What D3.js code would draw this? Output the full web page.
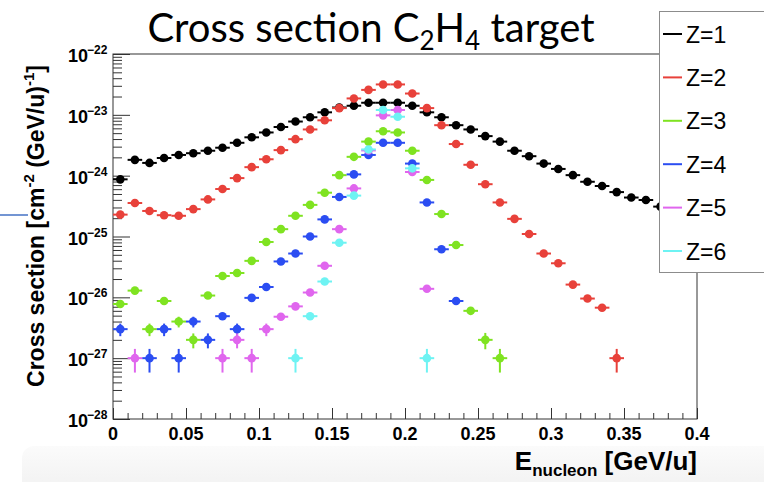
<!DOCTYPE html>
<html>
<head>
<meta charset="utf-8">
<script src="https://cdn.jsdelivr.net/npm/d3@7"></script>
<style>
  body { margin: 0; background: #fff; }
  svg { display: block; }
  .axis text { display: none; }
  .axis path { display: none; }
  .axis line { stroke: #333; stroke-width: 1; }
</style>
</head>
<body>
<div id="chart"></div>
<script>
// ---- data: [E_nucleon (GeV/u), cross section, vertical error] ----
const z1 = [
  [0.005, 8.7e-25, 0], [0.015, 1.82e-24, 0], [0.025, 1.62e-24, 0], [0.035, 1.95e-24, 0],
  [0.045, 2.19e-24, 0], [0.055, 2.34e-24, 0], [0.065, 2.57e-24, 0], [0.075, 2.88e-24, 0],
  [0.085, 3.47e-24, 0], [0.095, 4.27e-24, 0], [0.105, 5.13e-24, 0], [0.115, 6.31e-24, 0],
  [0.125, 7.76e-24, 0], [0.135, 9.12e-24, 0], [0.145, 1.10e-23, 0], [0.155, 1.32e-23, 0],
  [0.165, 1.41e-23, 0], [0.175, 1.58e-23, 0], [0.185, 1.58e-23, 0], [0.195, 1.58e-23, 0],
  [0.205, 1.41e-23, 0], [0.215, 1.10e-23, 0], [0.225, 9.12e-24, 0], [0.235, 6.76e-24, 0],
  [0.245, 5.75e-24, 0], [0.255, 4.47e-24, 0], [0.265, 3.63e-24, 0], [0.275, 2.57e-24, 0],
  [0.285, 2.09e-24, 0], [0.295, 1.58e-24, 0], [0.305, 1.29e-24, 0], [0.315, 1.02e-24, 0],
  [0.325, 7.94e-25, 0], [0.335, 6.76e-25, 0], [0.345, 5.37e-25, 0], [0.355, 4.37e-25, 0],
  [0.365, 3.98e-25, 0], [0.375, 3.1e-25, 0], [0.385, 2.5e-25, 0], [0.395, 2.0e-25, 0]
];
const z2 = [
  [0.005, 2.29e-25, 0], [0.015, 3.55e-25, 0], [0.025, 2.63e-25, 0], [0.035, 2.24e-25, 0],
  [0.045, 2.19e-25, 0], [0.055, 2.82e-25, 0], [0.065, 4.07e-25, 0], [0.075, 6.03e-25, 0],
  [0.085, 9.12e-25, 0], [0.095, 1.38e-24, 0], [0.105, 1.86e-24, 0], [0.115, 2.63e-24, 0],
  [0.125, 3.98e-24, 0], [0.135, 5.75e-24, 0], [0.145, 8.13e-24, 0], [0.155, 1.29e-23, 0],
  [0.165, 1.86e-23, 0], [0.175, 2.57e-23, 0], [0.185, 3.16e-23, 0], [0.195, 3.16e-23, 0],
  [0.205, 2.24e-23, 0], [0.215, 1.29e-23, 0], [0.225, 6.76e-24, 0], [0.235, 3.31e-24, 0],
  [0.245, 1.51e-24, 0], [0.255, 7.24e-25, 0], [0.265, 3.63e-25, 0], [0.275, 1.95e-25, 0],
  [0.285, 1.10e-25, 0], [0.295, 5.25e-26, 0], [0.305, 3.63e-26, 0], [0.315, 1.62e-26, 0],
  [0.325, 9.55e-27, 0], [0.335, 6.76e-27, 0], [0.345, 1.0e-27, 0.42e-27]
];
const z3 = [
  [0.005, 7.76e-27, 0], [0.015, 1.29e-26, 0], [0.025, 3.0e-27, 0.7e-27], [0.035, 8.7e-27, 0],
  [0.045, 4.0e-27, 0.8e-27], [0.055, 2.0e-27, 0.55e-27], [0.065, 1.07e-26, 0], [0.075, 2.24e-26, 0],
  [0.085, 2.51e-26, 0], [0.095, 3.98e-26, 0], [0.105, 8.13e-26, 0], [0.115, 1.32e-25, 0],
  [0.125, 2.19e-25, 0], [0.135, 3.31e-25, 0], [0.145, 5.25e-25, 0], [0.155, 1.02e-24, 0],
  [0.165, 2.04e-24, 0], [0.175, 3.63e-24, 0], [0.185, 5.37e-24, 0], [0.195, 5.13e-24, 0],
  [0.205, 2.57e-24, 0], [0.215, 8.51e-25, 0], [0.225, 2.34e-25, 0], [0.235, 7.24e-26, 0],
  [0.245, 6.0e-27, 0], [0.255, 2.0e-27, 0.6e-27], [0.265, 1.0e-27, 0.42e-27]
];
const z4 = [
  [0.005, 3.0e-27, 0.7e-27], [0.025, 1.0e-27, 0.42e-27], [0.035, 3.0e-27, 0.7e-27],
  [0.045, 1.0e-27, 0.42e-27], [0.055, 4.0e-27, 0.8e-27], [0.065, 2.0e-27, 0.55e-27],
  [0.075, 4.9e-27, 0], [0.085, 3.0e-27, 0.7e-27], [0.095, 9.8e-27, 0], [0.105, 1.48e-26, 0],
  [0.115, 3.89e-26, 0], [0.125, 5.25e-26, 0], [0.135, 1.0e-25, 0], [0.145, 1.91e-25, 0],
  [0.155, 4.47e-25, 0], [0.165, 1.05e-24, 0], [0.175, 2.19e-24, 0], [0.185, 3.47e-24, 0],
  [0.195, 3.47e-24, 0], [0.205, 1.58e-24, 0], [0.215, 3.63e-25, 0], [0.225, 6.17e-26, 0],
  [0.235, 8.7e-27, 0]
];
const z5 = [
  [0.015, 1.0e-27, 0.42e-27], [0.075, 1.0e-27, 0.42e-27], [0.085, 2.0e-27, 0.55e-27],
  [0.095, 1.0e-27, 0.42e-27], [0.105, 3.0e-27, 0.7e-27], [0.115, 4.8e-27, 0],
  [0.125, 7.1e-27, 0], [0.135, 1.2e-26, 0], [0.145, 3.3e-26, 0], [0.155, 1.32e-25, 0],
  [0.165, 6.17e-25, 0], [0.175, 2.6e-24, 0], [0.185, 9.8e-24, 0], [0.195, 1.2e-23, 0],
  [0.205, 1.15e-24, 0], [0.215, 1.38e-26, 0]
];
const z6 = [
  [0.125, 1.0e-27, 0.42e-27], [0.135, 4.9e-27, 0], [0.145, 1.82e-26, 0], [0.155, 7.9e-26, 0],
  [0.165, 4.7e-25, 0], [0.175, 2.7e-24, 0], [0.185, 1.2e-23, 0], [0.195, 9.3e-24, 0],
  [0.205, 1.32e-24, 0], [0.215, 1.0e-27, 0.42e-27]
];

const seriesNames = ["Z=1", "Z=2", "Z=3", "Z=4", "Z=5", "Z=6"];
const seriesData = [z1, z2, z3, z4, z5, z6];
const seriesColors = ["#000000", "#e8413a", "#7fe321", "#2b4df2", "#e066ee", "#6ef3f3"];

const binHalfWidth = 0.005;
const xTicks = [0, 0.05, 0.1, 0.15, 0.2, 0.25, 0.3, 0.35, 0.4];
const xTickLabels = ["0", "0.05", "0.1", "0.15", "0.2", "0.25", "0.3", "0.35", "0.4"];
const yDecades = [-28, -27, -26, -25, -24, -23, -22];

// ---- layout ----
const W = 764, H = 482;
const margin = { left: 113, right: 67, top: 54, bottom: 63 };
const width = W - margin.left - margin.right;
const height = H - margin.top - margin.bottom;

const svg = d3.select("#chart")
    .append("svg")
    .attr("width", W)
    .attr("height", H);

// slide background bits
const defs = svg.append("defs");
const grad = defs.append("linearGradient")
    .attr("id", "panelGrad")
    .attr("x1", 0).attr("y1", 0).attr("x2", 0).attr("y2", 1);
grad.append("stop").attr("offset", "0%").attr("stop-color", "#fbfbfb");
grad.append("stop").attr("offset", "40%").attr("stop-color", "#f4f4f4");
grad.append("stop").attr("offset", "100%").attr("stop-color", "#f2f2f2");
svg.append("rect")
    .attr("x", 22).attr("y", 446)
    .attr("width", 800).attr("height", 80)
    .attr("rx", 12)
    .attr("fill", "url(#panelGrad)");
svg.append("line")
    .attr("x1", 0).attr("x2", 28)
    .attr("y1", 215).attr("y2", 215)
    .attr("stroke", "#4472c4")
    .attr("stroke-width", 1.5);

const g = svg.append("g")
    .attr("transform", `translate(${margin.left},${margin.top})`);

// Scales
const x = d3.scaleLinear()
    .domain([0, 0.4])
    .range([0, width]);
const y = d3.scaleLog()
    .domain([1e-28, 1e-22])
    .range([height, 0]);

// X axis ticks (inside the frame)
const xMinor = [];
for (let i = 1; i < 40; i++) { if (i % 5 !== 0) xMinor.push(i / 100); }
g.append("g")
    .attr("class", "axis")
    .attr("transform", `translate(0,${height})`)
    .call(d3.axisBottom(x).tickValues(xTicks).tickSize(-11).tickSizeOuter(0));
g.append("g")
    .attr("class", "axis")
    .attr("transform", `translate(0,${height})`)
    .call(d3.axisBottom(x).tickValues(xMinor).tickSize(-6).tickSizeOuter(0));

// Y axis ticks
const yMajor = yDecades.map(function (d) { return Math.pow(10, d); });
const yMinor = [];
yDecades.slice(0, -1).forEach(function (d) {
    for (let k = 2; k <= 9; k++) yMinor.push(k * Math.pow(10, d));
});
g.append("g")
    .attr("class", "axis")
    .call(d3.axisLeft(y).tickValues(yMajor).tickSize(-17).tickSizeOuter(0));
g.append("g")
    .attr("class", "axis")
    .call(d3.axisLeft(y).tickValues(yMinor).tickSize(-9).tickSizeOuter(0));

// frame
g.append("rect")
    .attr("x", 0).attr("y", 0)
    .attr("width", width).attr("height", height)
    .attr("fill", "none")
    .attr("stroke", "#333")
    .attr("stroke-width", 1);

// X tick labels
g.selectAll(".xlab")
    .data(xTicks)
    .enter()
    .append("text")
    .attr("class", "xlab")
    .attr("x", function (d) { return x(d); })
    .attr("y", height + 21)
    .attr("text-anchor", "middle")
    .attr("font-family", "Liberation Sans, Arial, sans-serif")
    .attr("font-weight", "bold")
    .attr("font-size", "18px")
    .text(function (d, i) { return xTickLabels[i]; });

// Y tick labels 10^{n}
g.selectAll(".ylab")
    .data(yDecades)
    .enter()
    .append("text")
    .attr("class", "ylab")
    .attr("x", -25)
    .attr("y", function (d) { return y(Math.pow(10, d)) + 8; })
    .attr("text-anchor", "end")
    .attr("font-family", "Liberation Sans, Arial, sans-serif")
    .attr("font-weight", "bold")
    .attr("font-size", "18px")
    .text("10");
g.selectAll(".ysup")
    .data(yDecades)
    .enter()
    .append("text")
    .attr("class", "ysup")
    .attr("x", -26)
    .attr("y", function (d) { return y(Math.pow(10, d)) + 0; })
    .attr("font-family", "Liberation Sans, Arial, sans-serif")
    .attr("font-weight", "bold")
    .attr("font-size", "12px")
    .text(function (d) { return "\u2212" + Math.abs(d); });

// Axis titles
const yTitle = svg.append("text")
    .attr("transform", "translate(44,226) rotate(-90)")
    .attr("text-anchor", "middle")
    .attr("font-family", "Liberation Sans, Arial, sans-serif")
    .attr("font-weight", "bold")
    .attr("font-size", "23px");
yTitle.append("tspan").text("Cross section [cm");
yTitle.append("tspan").attr("dy", -10).attr("font-size", "15px").text("-2");
yTitle.append("tspan").attr("dy", 10).text(" (GeV/u)");
yTitle.append("tspan").attr("dy", -10).attr("font-size", "15px").text("-1");
yTitle.append("tspan").attr("dy", 10).text("]");

const xTitle = svg.append("text")
    .attr("x", 697)
    .attr("y", 470)
    .attr("text-anchor", "end")
    .attr("font-family", "Liberation Sans, Arial, sans-serif")
    .attr("font-weight", "bold")
    .attr("font-size", "26px");
xTitle.append("tspan").text("E");
xTitle.append("tspan").attr("dy", 6).attr("font-size", "17px").text("nucleon");
xTitle.append("tspan").attr("dy", -6).text(" [GeV/u]");

// Main title
const title = svg.append("text")
    .attr("x", 371)
    .attr("y", 42)
    .attr("text-anchor", "middle")
    .attr("font-family", "Lato, Open Sans, sans-serif")
    .attr("font-size", "40px");
title.append("tspan").text("Cross section C");
title.append("tspan").attr("dy", 8).attr("font-size", "26px").text("2");
title.append("tspan").attr("dy", -8).text("H");
title.append("tspan").attr("dy", 8).attr("font-size", "26px").text("4");
title.append("tspan").attr("dy", -8).text(" target");

// Data points with error bars
const plot = g.append("g");
seriesData.forEach(function (data, si) {
    const col = seriesColors[si];
    const s = plot.append("g").attr("class", "series");
    s.selectAll(".hbar")
        .data(data)
        .enter()
        .append("line")
        .attr("x1", function (d) { return x(d[0] - binHalfWidth); })
        .attr("x2", function (d) { return x(d[0] + binHalfWidth); })
        .attr("y1", function (d) { return y(d[1]); })
        .attr("y2", function (d) { return y(d[1]); })
        .attr("stroke", col)
        .attr("stroke-width", 2);
    s.selectAll(".vbar")
        .data(data.filter(function (d) { return d[2] > 0; }))
        .enter()
        .append("line")
        .attr("x1", function (d) { return x(d[0]); })
        .attr("x2", function (d) { return x(d[0]); })
        .attr("y1", function (d) { return y(d[1] + d[2]); })
        .attr("y2", function (d) { return y(d[1] - d[2]); })
        .attr("stroke", col)
        .attr("stroke-width", 2);
    s.selectAll("circle")
        .data(data)
        .enter()
        .append("circle")
        .attr("cx", function (d) { return x(d[0]); })
        .attr("cy", function (d) { return y(d[1]); })
        .attr("r", 4.3)
        .attr("fill", col);
});

// Legend
const legend = svg.append("g");
legend.append("rect")
    .attr("x", 659.5).attr("y", 11.5)
    .attr("width", 120).attr("height", 261)
    .attr("fill", "#fff")
    .attr("stroke", "#8c8c8c")
    .attr("stroke-width", 1);
const legendY = d3.scalePoint()
    .domain(seriesNames)
    .range([34, 251]);
seriesNames.forEach(function (name, i) {
    legend.append("line")
        .attr("x1", 663).attr("x2", 682)
        .attr("y1", legendY(name)).attr("y2", legendY(name))
        .attr("stroke", seriesColors[i])
        .attr("stroke-width", 2);
    legend.append("text")
        .attr("x", 686)
        .attr("y", legendY(name) + 8.5)
        .attr("font-family", "Liberation Sans, Arial, sans-serif")
        .attr("font-size", "23px")
        .text(name);
});
</script>
</body>
</html>
